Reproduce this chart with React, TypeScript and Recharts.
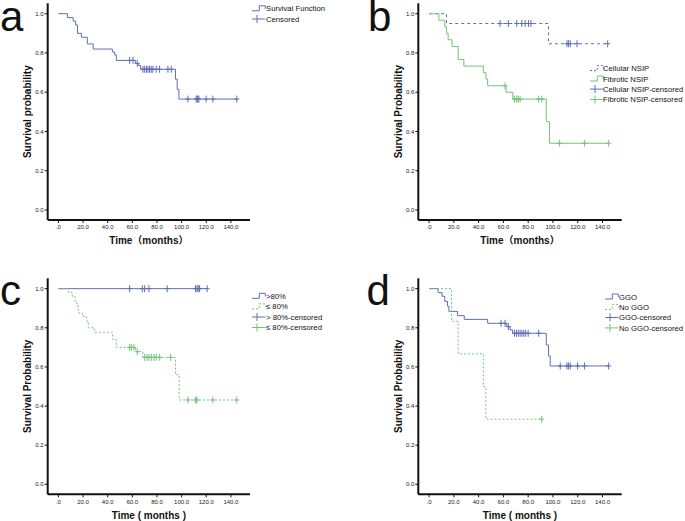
import React from "react";
import { ComposedChart, Line, Scatter, XAxis, YAxis } from "recharts";

const BLUE = "#5e6eb4";
const GREEN = "#74c279";
const FONT = "'Liberation Sans', Arial, 'Noto Sans CJK SC', sans-serif";

const xTicks = [0, 20, 40, 60, 80, 100, 120, 140];
const yTicks = [0, 0.2, 0.4, 0.6, 0.8, 1.0];

// a: all patients
const aTimes = [0, 7.3, 12, 14, 15.5, 18.6, 23.5, 28.2, 43.8, 45.7, 47, 62.4, 64.6, 66.7, 95, 96.4, 97.8, 145];
const aSurv = [1, 0.98, 0.962, 0.942, 0.9, 0.88, 0.846, 0.82, 0.805, 0.79, 0.762, 0.747, 0.737, 0.717, 0.666, 0.615, 0.565, 0.565];
const aCens = [57.8, 60.5, 64, 68.6, 70, 71.5, 72.7, 74, 75.3, 76.7, 79.4, 82.1, 88.9, 91.6, 105.1, 111.8, 112.5, 113.2, 114, 119.9, 125.4, 144.8];

// b: cellular vs fibrotic NSIP
const cellTimes = [0, 14.1, 96.4, 145];
const cellSurv = [1, 0.95, 0.847, 0.847];
const cellCens = [57.3, 64, 70.8, 74.9, 77.6, 80.2, 82.2, 111.3, 112.5, 114, 119.4, 144.2];
const fibTimes = [0, 7.9, 12.7, 14.1, 15.4, 18.6, 23.5, 28.1, 43.8, 45.9, 47.3, 62.1, 67.6, 94.6, 97.2, 145];
const fibSurv = [1, 0.967, 0.933, 0.9, 0.867, 0.833, 0.767, 0.733, 0.7, 0.667, 0.633, 0.6, 0.565, 0.45, 0.34, 0.34];
const fibCens = [61.3, 68.9, 70.8, 72, 73.5, 88.3, 91, 105.4, 125.4, 145];

// c: > 80% vs <= 80%
const hiTimes = [0, 120.7];
const hiSurv = [1, 1];
const hiCens = [57.8, 68.1, 70, 73.5, 88.3, 111.3, 112.5, 113.5, 114.6, 120.7];
const loTimes = [0, 8.1, 11.3, 13.5, 14.9, 16.2, 19.4, 23, 24.3, 29.2, 44, 47, 62.4, 68.6, 95, 98, 145];
const loSurv = [1, 0.98, 0.96, 0.935, 0.91, 0.876, 0.859, 0.833, 0.8, 0.777, 0.74, 0.7, 0.678, 0.649, 0.56, 0.431, 0.431];
const loCens = [57.8, 59.2, 61.3, 64, 70, 71.9, 73.5, 75.4, 77.6, 79.4, 82.2, 91.1, 105.1, 111.3, 112.4, 125.4, 144.8];

// d: GGO vs no GGO
const ggoTimes = [0, 7.3, 10.5, 12.7, 14.9, 16, 23, 28.4, 47.3, 62.7, 65.4, 67.3, 94.6, 96.4, 97.8, 145];
const ggoSurv = [1, 0.98, 0.961, 0.935, 0.91, 0.884, 0.862, 0.843, 0.823, 0.806, 0.79, 0.772, 0.712, 0.656, 0.605, 0.605];
const ggoCens = [58.1, 61.3, 64, 69, 70.5, 72, 73.5, 75, 76.5, 78, 80, 88.5, 105.9, 111.3, 112.5, 114, 119.9, 125.4, 145];
const noTimes = [0, 18.1, 23.5, 43.8, 45.9, 91];
const noSurv = [1, 0.833, 0.667, 0.5, 0.333, 0.333];
const noCens = [91];

type Pt = { t: number; s: number };

const curve = (times: number[], surv: number[]): Pt[] => times.map((t, i) => ({ t, s: surv[i] }));

// censored marks sit on the curve, so look up the step value at each time
const censored = (cens: number[], times: number[], surv: number[]): Pt[] =>
  cens.map((t) => {
    let s = surv[0];
    times.forEach((tt, i) => {
      if (tt <= t) s = surv[i];
    });
    return { t, s };
  });

type Series = { times: number[]; surv: number[]; cens: number[]; color: string; dash?: string };

const CensorMark = (props: any) => {
  const { cx, cy, stroke } = props;
  if (cx == null || cy == null) return null;
  return (
    <g>
      <line x1={cx} x2={cx} y1={cy - 3.5} y2={cy + 3.5} stroke={stroke} strokeWidth={1} />
      <line x1={cx - 2.5} x2={cx + 2.5} y1={cy} y2={cy} stroke={stroke} strokeWidth={1} />
    </g>
  );
};

type PanelProps = {
  left: number;
  top: number;
  width: number;
  height: number;
  marginTop: number;
  marginRight: number;
  yAxisWidth: number;
  xAxisHeight: number;
  xTitle: string;
  xTitleOffset: number;
  yTitle: string;
  yTitleOffset: number;
  series: Series[];
};

function Panel(p: PanelProps) {
  return (
    <div style={{ position: "absolute", left: p.left, top: p.top }}>
      <ComposedChart
        width={p.width}
        height={p.height}
        margin={{ top: p.marginTop, right: p.marginRight, left: 0, bottom: 0 }}
      >
        <XAxis
          type="number"
          dataKey="t"
          domain={[-8.7, 155.5]}
          ticks={xTicks}
          interval={0}
          allowDataOverflow
          height={p.xAxisHeight}
          tickSize={3}
          tickMargin={2}
          axisLine={{ stroke: "#111", strokeWidth: 2 }}
          tickLine={{ stroke: "#111" }}
          tick={{ fontSize: 6, fill: "#222", fontFamily: FONT }}
          tickFormatter={(v: number) => (v === 0 ? ".0" : v.toFixed(1))}
          label={{
            value: p.xTitle,
            position: "insideBottom",
            offset: p.xTitleOffset,
            style: { fontSize: 10, fontWeight: 700, fill: "#111", fontFamily: FONT },
          }}
        />
        <YAxis
          type="number"
          dataKey="s"
          domain={[-0.051, 1.053]}
          ticks={yTicks}
          interval={0}
          allowDataOverflow
          width={p.yAxisWidth}
          tickSize={3}
          tickMargin={1}
          axisLine={{ stroke: "#111", strokeWidth: 2 }}
          tickLine={{ stroke: "#111" }}
          tick={{ fontSize: 6, fill: "#222", fontFamily: FONT }}
          tickFormatter={(v: number) => v.toFixed(1)}
          label={{
            value: p.yTitle,
            angle: -90,
            position: "insideLeft",
            offset: p.yTitleOffset,
            style: { fontSize: 10, fontWeight: 700, fill: "#111", fontFamily: FONT, textAnchor: "middle" },
          }}
        />
        {p.series.map((s, i) => (
          <Line
            key={`l${i}`}
            data={curve(s.times, s.surv)}
            dataKey="s"
            type="stepAfter"
            stroke={s.color}
            strokeWidth={1}
            strokeDasharray={s.dash}
            dot={false}
            activeDot={false}
            isAnimationActive={false}
          />
        ))}
        {p.series.map((s, i) => (
          <Scatter
            key={`c${i}`}
            data={censored(s.cens, s.times, s.surv)}
            dataKey="s"
            stroke={s.color}
            fill={s.color}
            shape={<CensorMark stroke={s.color} />}
            isAnimationActive={false}
          />
        ))}
      </ComposedChart>
    </div>
  );
}

type LegendItem = { kind: "step" | "cens"; color: string; dash?: string; label: string };

function LegendBlock({ x, textX, y0, dy, items }: { x: number; textX: number; y0: number; dy: number; items: LegendItem[] }) {
  return (
    <g>
      {items.map((it, i) => {
        const y = y0 + i * dy;
        return (
          <g key={i}>
            {it.kind === "step" ? (
              <path
                d={`M${x},${y + 2.3} H${x + 7.3} V${y - 2.7} H${x + 13.3} V${y + 0.5}`}
                fill="none"
                stroke={it.color}
                strokeWidth={1}
                strokeDasharray={it.dash}
              />
            ) : (
              <g stroke={it.color} strokeWidth={1}>
                <line x1={x} x2={x + 13.3} y1={y} y2={y} />
                <line x1={x + 5} x2={x + 5} y1={y - 4} y2={y + 4} />
              </g>
            )}
            <text x={textX} y={y + 2.8} fontSize={7.7} fontFamily={FONT} fill="#111">
              {it.label}
            </text>
          </g>
        );
      })}
    </g>
  );
}

export default function App() {
  return (
    <div style={{ position: "absolute", left: 0, top: 0, width: 685, height: 521, background: "#fff", overflow: "hidden" }}>
      <Panel
        left={0}
        top={0}
        width={340}
        height={260}
        marginTop={3.3}
        marginRight={90}
        yAxisWidth={47.7}
        xAxisHeight={40}
        xTitle="Time（months）"
        xTitleOffset={16}
        yTitle="Survival probability"
        yTitleOffset={27.7}
        series={[{ times: aTimes, surv: aSurv, cens: aCens, color: BLUE }]}
      />
      <Panel
        left={340}
        top={0}
        width={345}
        height={260}
        marginTop={3.3}
        marginRight={63.3}
        yAxisWidth={78.3}
        xAxisHeight={40}
        xTitle="Time（months）"
        xTitleOffset={16}
        yTitle="Survival Probability"
        yTitleOffset={58.3}
        series={[
          { times: cellTimes, surv: cellSurv, cens: cellCens, color: BLUE, dash: "3 3" },
          { times: fibTimes, surv: fibSurv, cens: fibCens, color: GREEN },
        ]}
      />
      <Panel
        left={0}
        top={260}
        width={340}
        height={261}
        marginTop={18.3}
        marginRight={90}
        yAxisWidth={47.7}
        xAxisHeight={26.7}
        xTitle="Time ( months )"
        xTitleOffset={2}
        yTitle="Survival Probability"
        yTitleOffset={27.7}
        series={[
          { times: hiTimes, surv: hiSurv, cens: hiCens, color: BLUE },
          { times: loTimes, surv: loSurv, cens: loCens, color: GREEN, dash: "2 2" },
        ]}
      />
      <Panel
        left={340}
        top={260}
        width={345}
        height={261}
        marginTop={18.3}
        marginRight={63.3}
        yAxisWidth={78.3}
        xAxisHeight={26.7}
        xTitle="Time ( months )"
        xTitleOffset={2}
        yTitle="Survival Probability"
        yTitleOffset={58.3}
        series={[
          { times: ggoTimes, surv: ggoSurv, cens: ggoCens, color: BLUE },
          { times: noTimes, surv: noSurv, cens: noCens, color: GREEN, dash: "2 2" },
        ]}
      />
      <svg width={685} height={521} style={{ position: "absolute", left: 0, top: 0, pointerEvents: "none" }}>
        <g fontFamily={FONT} fontSize={42} fill="#111">
          <text x={0} y={31}>a</text>
          <text x={368} y={30.5}>b</text>
          <text x={0} y={305}>c</text>
          <text x={366.5} y={305}>d</text>
        </g>
        <LegendBlock
          x={252}
          textX={266}
          y0={8.5}
          dy={10.5}
          items={[
            { kind: "step", color: BLUE, label: "Survival Function" },
            { kind: "cens", color: BLUE, label: "Censored" },
          ]}
        />
        <LegendBlock
          x={590}
          textX={603}
          y0={68.3}
          dy={10.4}
          items={[
            { kind: "step", color: BLUE, dash: "2 2", label: "Cellular NSIP" },
            { kind: "step", color: GREEN, label: "Fibrotic NSIP" },
            { kind: "cens", color: BLUE, label: "Cellular NSIP-censored" },
            { kind: "cens", color: GREEN, label: "Fibrotic NSIP-censored" },
          ]}
        />
        <LegendBlock
          x={252}
          textX={266}
          y0={296}
          dy={10.5}
          items={[
            { kind: "step", color: BLUE, label: ">80%" },
            { kind: "step", color: GREEN, dash: "2 2", label: "≤ 80%" },
            { kind: "cens", color: BLUE, label: "> 80%-censored" },
            { kind: "cens", color: GREEN, label: "≤ 80%-censored" },
          ]}
        />
        <LegendBlock
          x={605}
          textX={619}
          y0={296.7}
          dy={10.4}
          items={[
            { kind: "step", color: BLUE, label: "GGO" },
            { kind: "step", color: GREEN, dash: "2 2", label: "No GGO" },
            { kind: "cens", color: BLUE, label: "GGO-censored" },
            { kind: "cens", color: GREEN, label: "No GGO-censored" },
          ]}
        />
      </svg>
    </div>
  );
}
